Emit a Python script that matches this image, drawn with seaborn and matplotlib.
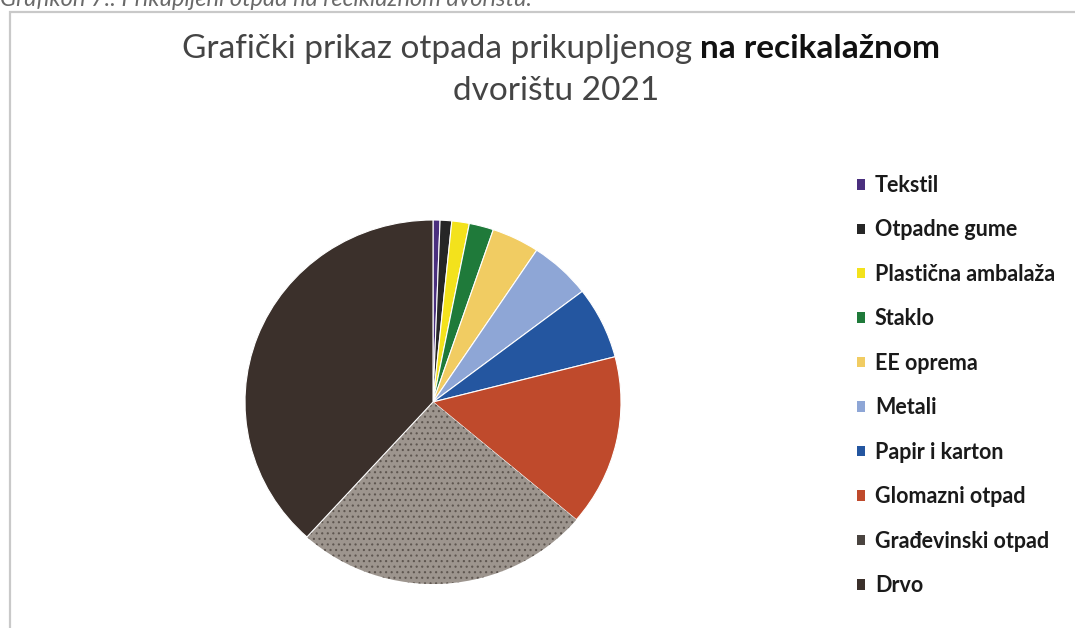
import matplotlib
matplotlib.use("Agg")
import matplotlib.pyplot as plt
import seaborn as sns
from matplotlib.patches import Patch, Rectangle

categories = ["Tekstil", "Otpadne gume", "Plastična ambalaža", "Staklo", "EE oprema",
              "Metali", "Papir i karton", "Glomazni otpad", "Građevinski otpad", "Drvo"]
values = [0.6, 1.0, 1.5, 2.1, 4.1, 5.3, 6.4, 15.2, 25.5, 38.3]
colors = ["#4a2f7e", "#262626", "#f3e21c", "#1f7a3a", "#f1cc62",
          "#8ea6d6", "#2456a0", "#bf4a2c", "#9d958e", "#3b302b"]
title_normal = "Grafički prikaz otpada prikupljenog "
title_bold = "na recikalažnom"
title_line2 = "dvorištu 2021"
caption = "Grafikon 7.: Prikupljeni otpad na reciklažnom dvorištu."

sns.set_theme(style="white")
plt.rcParams["font.family"] = ["Lato", "DejaVu Sans"]
plt.rcParams["hatch.linewidth"] = 0.8

W, H = 1075, 628
fig = plt.figure(figsize=(W / 100, H / 100), dpi=100)
fig.patch.set_facecolor("white")

# frame of the scanned chart
fig.patches.append(Rectangle((10 / W, -0.1), 1.2, 1 - 12 / H + 0.1, transform=fig.transFigure,
                             fill=False, edgecolor="#c9c9c9", linewidth=1.6))

# partially cut caption at the top
fig.text(0.0, 1 - 6 / H, caption, ha="left", va="baseline", fontsize=17, style="italic",
         color="#6a6a6a")

# pie
cx, cy, rx, ry = 433, 402, 188, 182
ax = fig.add_axes([(cx - rx) / W, 1 - (cy + ry) / H, 2 * rx / W, 2 * ry / H])
wedges, _ = ax.pie(values, colors=colors, startangle=90, counterclock=False,
                   wedgeprops=dict(edgecolor="white", linewidth=0.8))
g = wedges[categories.index("Građevinski otpad")]
g.set_hatch("...")
g.set_edgecolor("#5e5650")
g.set_linewidth(0)
ax.set_xlim(-1.0, 1.0)
ax.set_ylim(-1.0, 1.0)
ax.set_aspect("auto")
ax.axis("off")

# legend
handles = [Patch(facecolor=c, edgecolor="none") for c in colors]
handles[8] = Patch(facecolor="#4a4440", edgecolor="none")
leg = fig.legend(handles, categories, loc="upper left", bbox_to_anchor=(857 / W, 1 - 175 / H),
                 frameon=False, fontsize=15.5, handlelength=0.37, handleheight=0.37,
                 handletextpad=0.46, labelspacing=1.09, borderaxespad=0, borderpad=0)
for t in leg.get_texts():
    t.set_fontweight("bold")
    t.set_color("#1a1a1a")

# title: two styles on the first line
fig.canvas.draw()
renderer = fig.canvas.get_renderer()
fs = 24
t1 = fig.text(0, 1 - 58 / H, title_normal, fontsize=fs, color="#444444", ha="left", va="baseline")
t2 = fig.text(0, 1 - 58 / H, title_bold, fontsize=fs, color="#111111", fontweight="bold",
              ha="left", va="baseline")
w1 = t1.get_window_extent(renderer).width
w2 = t2.get_window_extent(renderer).width
x0 = 561 - (w1 + w2) / 2
t1.set_x(x0 / W)
t2.set_x((x0 + w1) / W)
fig.text(556 / W, 1 - 100 / H, title_line2, fontsize=fs, color="#444444", ha="center", va="baseline")

fig.savefig("out.png", dpi=100)
